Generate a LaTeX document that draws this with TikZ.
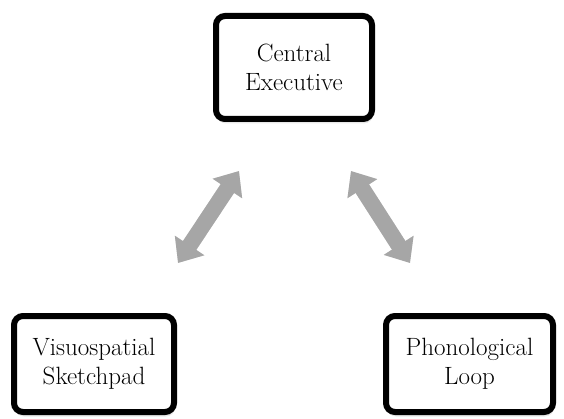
\documentclass[tikz,border=0pt]{standalone}
\usepackage{tikz}
\usetikzlibrary{arrows.meta, positioning, shadows}
\definecolor{boxcolor}  {RGB}{255, 255, 255}
\definecolor{linkcolor} {RGB}{166, 166, 166}
\tikzset{
	membox/.style={
		rectangle, rounded corners=9pt,
		align=center, font=\fontsize{25}{29.5}\selectfont,
		draw=black, line width=6pt, fill=boxcolor,
		drop shadow={shadow xshift=1pt, shadow yshift=-4.5pt, opacity=0.18}
	},
	linkarrow/.style={
		{Triangle[width=34pt, length=21pt]}-{Triangle[width=34pt, length=21pt]},
		line width=16pt, color=linkcolor
	},
	linkshadow/.style={
		{Triangle[width=34pt, length=21pt]}-{Triangle[width=34pt, length=21pt]},
		line width=16pt, color=black!12, shift={(2pt,-3pt)}
	}
}

\begin{document}
\begin{tikzpicture}[x=1pt, y=1pt]
		\useasboundingbox (0,0) rectangle (564,-419);
		
		%% ═══════════════════════════════
		%%  TOP — Central Executive
		%% ═══════════════════════════════
		\node[membox, minimum width=156pt, minimum height=103pt] (ce) at (294,-67.5) {Central\\Executive};
		
		%% ═══════════════════════════════
		%%  BOTTOM — slave systems
		%% ═══════════════════════════════
		\node[membox, minimum width=160pt, minimum height=96pt] (vs) at (94,-364) {Visuospatial\\Sketchpad};
		\node[membox, minimum width=167pt, minimum height=96pt] (pl) at (469.5,-364) {Phonological\\Loop};
		
		%% ═══════════════════════════════
		%%  ARROW ENDS
		%% ═══════════════════════════════
		\coordinate (vsTop) at (178,-263);
		\coordinate (ceLeft) at (239,-171);
		\coordinate (plTop) at (410,-263);
		\coordinate (ceRight) at (351,-171);
		
		%% ═══════════════════════════════
		%%  ARROWS
		%% ═══════════════════════════════
		
		% shadows
		\draw[linkshadow] (vsTop) -- (ceLeft);
		\draw[linkshadow] (plTop) -- (ceRight);
		
		% Central Executive <-> slaves
		\draw[linkarrow] (vsTop) -- (ceLeft);
		\draw[linkarrow] (plTop) -- (ceRight);
	\end{tikzpicture}
\end{document}
